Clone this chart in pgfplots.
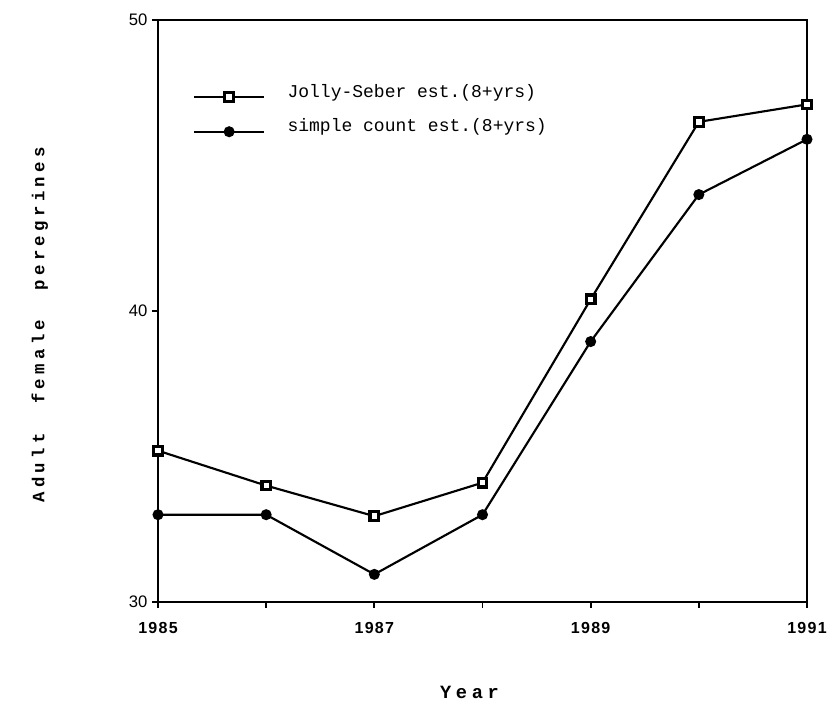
\documentclass[border=0pt]{standalone}
\usepackage{fontspec}
\setmainfont{Liberation Sans}
\newfontfamily\legfont{Liberation Mono}
\newfontfamily\labfont{Liberation Mono}[LetterSpace=25]
\newfontfamily\xtickfont{Liberation Sans}[LetterSpace=8]
\usepackage{pgfplots}
\pgfplotsset{compat=1.18}

\begin{document}
\begin{tikzpicture}
\useasboundingbox (-118.5pt,-78.75pt) rectangle (501.75pt,451.5pt);
\begin{axis}[
    scale only axis,
    at={(0pt,0pt)}, anchor=south west,
    width=486.75pt, height=436.5pt,
    xmin=1985, xmax=1991,
    ymin=30, ymax=50,
    xtick={1985,1986,...,1991},
    xticklabels={1985,,1987,,1989,,1991},
    ytick={30,40,50},
    minor tick num=0,
    tick pos=left,
    tick align=outside,
    major tick length=4.5pt,
    tick style={line width=1.4pt, black},
    axis line style={line width=1.8pt},
    every axis plot/.append style={line width=1.6pt, black},
    /pgf/number format/assume math mode=true,
    /pgf/number format/1000 sep={},
    xticklabel style={font=\xtickfont\bfseries\fontsize{12}{14}\selectfont, yshift=-7pt},
    yticklabel style={font=\fontsize{12.5}{14}\selectfont},
    ylabel={Adult\ \ female\ \ peregrines},
    xlabel={Year},
    ylabel style={at={(axis description cs:-0.182,0.476)}, anchor=center,
        font=\labfont\bfseries\fontsize{13}{15}\selectfont},
    xlabel style={at={(axis description cs:0.48,-0.156)}, anchor=center,
        font=\labfont\bfseries\fontsize{14}{16}\selectfont},
    legend style={draw=none, fill=none,
        at={(axis description cs:0.048,0.895)}, anchor=north west,
        font=\legfont\fontsize{13.5}{15}\selectfont,
        row sep=13pt,
        nodes={inner sep=0pt, anchor=base west},
        /tikz/every odd column/.append style={column sep=17pt}},
    legend cell align=left,
    legend image code/.code={
        \draw[mark repeat=2, mark phase=2] plot coordinates {(0pt,0pt) (26pt,0pt) (52pt,0pt)};
    },
]
\addplot[mark=square*, mark size=3.2pt, mark options={fill=white, line width=2.4pt}]
    coordinates {(1985,35.2) (1986,34.0) (1987,32.95) (1988,34.1) (1989,40.4) (1990,46.5) (1991,47.1)};
\addlegendentry{Jolly-Seber est.(8+yrs)}
\addplot[mark=*, mark size=3.3pt]
    coordinates {(1985,33.0) (1986,33.0) (1987,30.95) (1988,33.0) (1989,38.95) (1990,44.0) (1991,45.9)};
\addlegendentry{simple count est.(8+yrs)}
\end{axis}
\end{tikzpicture}
\end{document}
